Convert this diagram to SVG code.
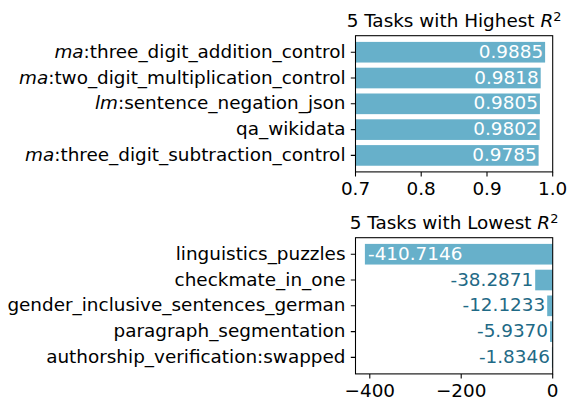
<svg xmlns="http://www.w3.org/2000/svg" width="569" height="401" viewBox="0 0 569 401">
<style>
text{font-family:"DejaVu Sans","Liberation Sans",sans-serif;font-size:18.4px;fill:#000}
.bar{fill:#67b0ca}
.in{fill:#fff;text-anchor:end}
.out{fill:#1f6a86;text-anchor:end}
.lab{text-anchor:end}
.tick{text-anchor:middle}
.ttl{text-anchor:middle}
.sp{fill:none;stroke:#000;stroke-width:1.07}
.tk{stroke:#000;stroke-width:1.07}
.it{font-style:italic}
</style>
<rect width="569" height="401" fill="#fff"/>

<g id="top-panel">
  <text class="ttl" x="454" y="26.5">5 Tasks with Highest <tspan class="it">R</tspan><tspan font-size="12.9" dy="-6">2</tspan></text>
  <g id="top-bars">
    <rect class="bar" x="355.5" y="41.9" width="189.6" height="20.64"/>
    <rect class="bar" x="355.5" y="67.7" width="185.2" height="20.64"/>
    <rect class="bar" x="355.5" y="93.5" width="184.4" height="20.64"/>
    <rect class="bar" x="355.5" y="119.3" width="184.2" height="20.64"/>
    <rect class="bar" x="355.5" y="145.1" width="183.1" height="20.64"/>
  </g>
  <g id="top-values">
    <text class="in" x="543.1" y="57.8">0.9885</text>
    <text class="in" x="538.7" y="83.6">0.9818</text>
    <text class="in" x="537.9" y="109.4">0.9805</text>
    <text class="in" x="537.7" y="135.2">0.9802</text>
    <text class="in" x="536.6" y="161">0.9785</text>
  </g>
  <g id="top-labels">
    <text class="lab" x="345.5" y="57.8"><tspan class="it">ma</tspan>:three_digit_addition_control</text>
    <text class="lab" x="345.5" y="83.6"><tspan class="it">ma</tspan>:two_digit_multiplication_control</text>
    <text class="lab" x="345.5" y="109.4"><tspan class="it">lm</tspan>:sentence_negation_json</text>
    <text class="lab" x="345.5" y="135.2">qa_wikidata</text>
    <text class="lab" x="345.5" y="161"><tspan class="it">ma</tspan>:three_digit_subtraction_control</text>
  </g>
  <rect class="sp" x="355.5" y="35.7" width="197.2" height="136.2"/>
  <g id="top-ticks">
    <path class="tk" d="M355.5 52.2h-4.7M355.5 78h-4.7M355.5 103.8h-4.7M355.5 129.6h-4.7M355.5 155.4h-4.7"/>
    <path class="tk" d="M355.5 171.9v4.7M421.2 171.9v4.7M487 171.9v4.7M552.7 171.9v4.7"/>
    <text class="tick" x="355.5" y="195.3">0.7</text>
    <text class="tick" x="421.2" y="195.3">0.8</text>
    <text class="tick" x="487" y="195.3">0.9</text>
    <text class="tick" x="552.7" y="195.3">1.0</text>
  </g>
</g>

<g id="bottom-panel">
  <text class="ttl" x="454" y="228.5">5 Tasks with Lowest <tspan class="it">R</tspan><tspan font-size="12.9" dy="-6">2</tspan></text>
  <g id="bottom-bars">
    <rect class="bar" x="364.9" y="243.9" width="187.8" height="20.64"/>
    <rect class="bar" x="535.2" y="269.7" width="17.5" height="20.64"/>
    <rect class="bar" x="547.2" y="295.5" width="5.5" height="20.64"/>
    <rect class="bar" x="550" y="321.3" width="2.7" height="20.64"/>
    <rect class="bar" x="551.9" y="347.1" width="0.8" height="20.64"/>
  </g>
  <g id="bottom-values">
    <text style="fill:#fff" x="368" y="259.8">-410.7146</text>
    <text class="out" x="533.2" y="285.6">-38.2871</text>
    <text class="out" x="545.2" y="311.4">-12.1233</text>
    <text class="out" x="548" y="337.2">-5.9370</text>
    <text class="out" x="549.9" y="363">-1.8346</text>
  </g>
  <g id="bottom-labels">
    <text class="lab" x="345.5" y="259.8">linguistics_puzzles</text>
    <text class="lab" x="345.5" y="285.6">checkmate_in_one</text>
    <text class="lab" x="345.5" y="311.4">gender_inclusive_sentences_german</text>
    <text class="lab" x="345.5" y="337.2">paragraph_segmentation</text>
    <text class="lab" x="345.5" y="363">authorship_verification:swapped</text>
  </g>
  <rect class="sp" x="355.5" y="237.7" width="197.2" height="136.2"/>
  <g id="bottom-ticks">
    <path class="tk" d="M355.5 254.2h-4.7M355.5 280h-4.7M355.5 305.8h-4.7M355.5 331.6h-4.7M355.5 357.4h-4.7"/>
    <path class="tk" d="M369.8 373.9v4.7M461.2 373.9v4.7M552.7 373.9v4.7"/>
    <text class="tick" x="369.8" y="397.3">−400</text>
    <text class="tick" x="461.2" y="397.3">−200</text>
    <text class="tick" x="552.7" y="397.3">0</text>
  </g>
</g>
</svg>
